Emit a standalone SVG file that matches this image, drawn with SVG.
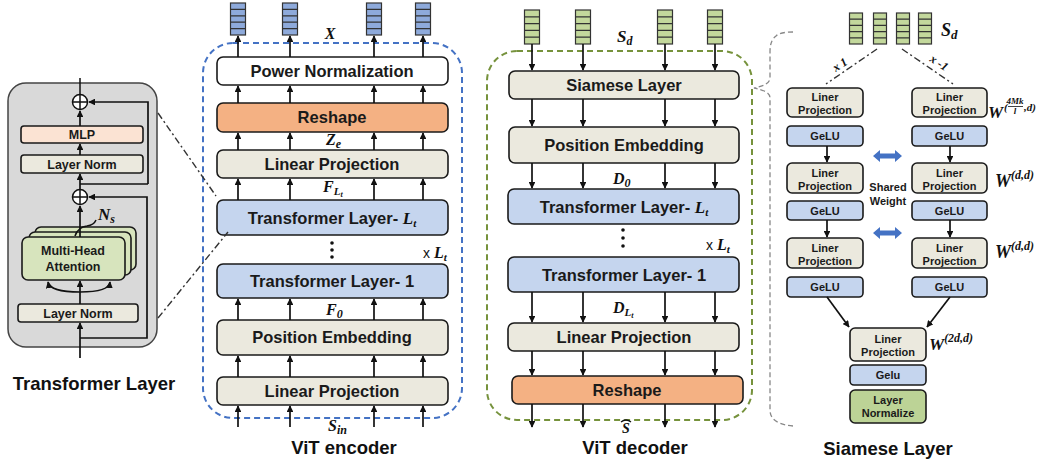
<svg xmlns="http://www.w3.org/2000/svg" width="1053" height="466" viewBox="0 0 1053 466">
<defs>
<marker id="ah" viewBox="0 0 10 10" refX="9" refY="5" markerWidth="4" markerHeight="4" orient="auto"><path d="M0,0 L10,5 L0,10 z" fill="#111"/></marker>
<style>
.box{stroke:#1a1a1a;stroke-width:1.6}
.beige{fill:#ebe9de}.blue{fill:#c5d5ee}.orange{fill:#f4b183}.white{fill:#fff}
.peach{fill:#fbe3d3}.green{fill:#d7e4bd}.lgreen{fill:#bcd396}
.t16{font-family:"Liberation Sans",Arial,sans-serif;font-weight:bold;font-size:16.5px;text-anchor:middle;fill:#1a1a1a}
.t13{font-family:"Liberation Sans",Arial,sans-serif;font-weight:bold;font-size:12.5px;text-anchor:middle;fill:#1a1a1a}
.t11{font-family:"Liberation Sans",Arial,sans-serif;font-weight:bold;font-size:11px;text-anchor:middle;fill:#1a1a1a}
.title{font-family:"Liberation Sans",Arial,sans-serif;font-weight:bold;font-size:18.5px;text-anchor:middle;fill:#111}
.m{font-family:"Liberation Serif","DejaVu Serif",serif;font-style:italic;font-weight:bold;fill:#111}
.ar{stroke:#111;stroke-width:1.7;fill:none;marker-end:url(#ah)}
.ln{stroke:#111;stroke-width:1.5;fill:none}
.dd{stroke:#333;stroke-width:1.4;fill:none;stroke-dasharray:7 3 2 3}
.vb{fill:#8eaadb;stroke:#333;stroke-width:1.2}
.vg{fill:#c3d89c;stroke:#333;stroke-width:1.2}
.vl{stroke:#333;stroke-width:1.2}
</style>
</defs>
<rect width="1053" height="466" fill="#fff"/>

<!-- Transformer Layer panel -->
<g id="transformer-layer">
<rect x="8" y="83" width="149" height="264" rx="18" fill="#d9d9d9" stroke="#444" stroke-width="1.5"/>
<rect class="box beige" x="18" y="304" width="120" height="18" rx="3"/>
<text class="t13" x="78" y="318">Layer Norm</text>
<rect class="box green" x="35" y="227" width="101" height="43" rx="6"/>
<rect class="box green" x="29" y="232" width="102" height="43" rx="6"/>
<rect class="box green" x="22" y="237" width="103" height="43" rx="6"/>
<text class="t13" x="73" y="255">Multi-Head</text>
<text class="t13" x="73" y="271">Attention</text>
<rect class="box beige" x="21" y="155" width="122" height="18" rx="3"/>
<text class="t13" x="82" y="169">Layer Norm</text>
<rect class="box peach" x="21" y="126" width="122" height="17" rx="3"/>
<text class="t13" x="82" y="139">MLP</text>
<g stroke="#111" stroke-width="1.5" fill="#fff">
<circle cx="80" cy="102" r="7.5"/><path d="M72.5 102H87.5M80 94.5V109.5"/>
<circle cx="80" cy="197" r="7.5"/><path d="M72.5 197H87.5M80 189.5V204.5"/>
</g>
<path class="ln" d="M80 94V78"/>
<path class="ar" d="M80 126V111"/>
<path class="ar" d="M80 155V144"/>
<path class="ar" d="M80 189V174"/>
<path class="ar" d="M148 184V102H89"/>
<path class="ln" d="M80 184H148"/>
<path class="ar" d="M80 338H147V197H89"/>
<path class="ar" d="M80 358V323"/>
<path class="ar" d="M80 304V281"/>
<path class="ar" d="M80 292Q50 292 48 282"/>
<path class="ar" d="M80 292Q109 292 110 282"/>
<path class="ar" d="M80 237V206"/>
<path class="ln" d="M75 236Q78 227 87 226Q94 225 96 220" stroke-width="1.2"/>
<text class="m" x="98" y="220" font-size="17">N<tspan font-size="12" dy="3">s</tspan></text>
<text class="title" x="94" y="390">Transformer Layer</text>
</g>

<!-- ViT encoder -->
<g id="vit-encoder">
<rect x="203" y="43" width="259" height="375" rx="30" fill="none" stroke="#4472c4" stroke-width="2" stroke-dasharray="6 4"/>
<rect class="box white" x="217" y="57" width="231" height="28" rx="6"/>
<text class="t16" x="332" y="77">Power Normalization</text>
<rect class="box orange" x="217" y="103" width="231" height="29" rx="6"/>
<text class="t16" x="332" y="123">Reshape</text>
<rect class="box beige" x="217" y="150" width="231" height="28" rx="6"/>
<text class="t16" x="332" y="170">Linear Projection</text>
<rect class="box blue" x="217" y="200" width="231" height="35" rx="6"/>
<text class="t16" x="332" y="224">Transformer Layer- <tspan class="m" font-size="17">L<tspan font-size="11" dy="3">t</tspan></tspan></text>
<rect class="box blue" x="217" y="264" width="231" height="34" rx="6"/>
<text class="t16" x="332" y="287">Transformer Layer- 1</text>
<rect class="box beige" x="217" y="320" width="231" height="35" rx="6"/>
<text class="t16" x="332" y="343">Position Embedding</text>
<rect class="box beige" x="217" y="377" width="231" height="28" rx="6"/>
<text class="t16" x="332" y="397">Linear Projection</text>
<g fill="#111"><circle cx="332" cy="243" r="1.8"/><circle cx="332" cy="250" r="1.8"/><circle cx="332" cy="257" r="1.8"/></g>
<text x="423" y="258" font-family="Liberation Sans,Arial,sans-serif" font-size="14" fill="#111">x <tspan class="m" font-size="16">L<tspan font-size="11" dy="3">t</tspan></tspan></text>
<text class="m" x="330" y="39" font-size="16" text-anchor="middle">X</text>
<text class="m" x="326" y="145" font-size="16">Z<tspan font-size="12" dy="3">e</tspan></text>
<text class="m" x="323" y="192" font-size="16">F<tspan font-size="11" dy="3">L</tspan><tspan font-size="8" dy="2">t</tspan></text>
<text class="m" x="326" y="315" font-size="16">F<tspan font-size="12" dy="3">0</tspan></text>
<text class="m" x="328" y="431" font-size="16">S<tspan font-size="12" dy="3">in</tspan></text>
<text class="title" x="344" y="454">ViT encoder</text>
<g>
<rect class="vb" x="230.5" y="3" width="15" height="32"/><rect class="vb" x="282.5" y="3" width="15" height="32"/><rect class="vb" x="366.5" y="3" width="15" height="32"/><rect class="vb" x="415.5" y="3" width="15" height="32"/>
<path class="vl" d="M230.5 9.4h15M230.5 15.8h15M230.5 22.2h15M230.5 28.6h15M282.5 9.4h15M282.5 15.8h15M282.5 22.2h15M282.5 28.6h15M366.5 9.4h15M366.5 15.8h15M366.5 22.2h15M366.5 28.6h15M415.5 9.4h15M415.5 15.8h15M415.5 22.2h15M415.5 28.6h15"/>
</g>
</g>

<!-- ViT decoder -->
<g id="vit-decoder">
<rect x="487" y="51" width="265" height="369" rx="30" fill="none" stroke="#76923c" stroke-width="2" stroke-dasharray="6 4"/>
<rect class="box beige" x="509" y="71" width="230" height="28" rx="6"/>
<text class="t16" x="624" y="91">Siamese Layer</text>
<rect class="box beige" x="509" y="127" width="230" height="36" rx="6"/>
<text class="t16" x="624" y="151">Position Embedding</text>
<rect class="box blue" x="508" y="189" width="231" height="35" rx="6"/>
<text class="t16" x="624" y="213">Transformer Layer- <tspan class="m" font-size="17">L<tspan font-size="11" dy="3">t</tspan></tspan></text>
<rect class="box blue" x="508" y="257" width="231" height="35" rx="6"/>
<text class="t16" x="624" y="281">Transformer Layer- 1</text>
<rect class="box beige" x="508" y="323" width="231" height="28" rx="6"/>
<text class="t16" x="624" y="343">Linear Projection</text>
<rect class="box orange" x="512" y="376" width="231" height="28" rx="6"/>
<text class="t16" x="627" y="396">Reshape</text>
<g fill="#111"><circle cx="623" cy="230" r="1.8"/><circle cx="623" cy="238" r="1.8"/><circle cx="623" cy="246" r="1.8"/></g>
<text x="706" y="250" font-family="Liberation Sans,Arial,sans-serif" font-size="14" fill="#111">x <tspan class="m" font-size="16">L<tspan font-size="11" dy="3">t</tspan></tspan></text>
<text class="m" x="617" y="42" font-size="17">S<tspan font-size="12" dy="3">d</tspan></text>
<text class="m" x="613" y="184" font-size="16">D<tspan font-size="12" dy="3">0</tspan></text>
<text class="m" x="613" y="313" font-size="16">D<tspan font-size="11" dy="3">L</tspan><tspan font-size="8" dy="2">t</tspan></text>
<text class="m" x="626" y="433" font-size="14" text-anchor="middle">S</text>
<path d="M621 422Q626 418 631 422" stroke="#111" stroke-width="1.3" fill="none"/>
<text class="title" x="635" y="454">ViT decoder</text>
<g>
<rect class="vg" x="524.5" y="10" width="15" height="34"/><rect class="vg" x="575.5" y="10" width="15" height="34"/><rect class="vg" x="657.5" y="10" width="15" height="34"/><rect class="vg" x="707.5" y="10" width="15" height="34"/>
<path class="vl" d="M524.5 16.8h15M524.5 23.6h15M524.5 30.4h15M524.5 37.2h15M575.5 16.8h15M575.5 23.6h15M575.5 30.4h15M575.5 37.2h15M657.5 16.8h15M657.5 23.6h15M657.5 30.4h15M657.5 37.2h15M707.5 16.8h15M707.5 23.6h15M707.5 30.4h15M707.5 37.2h15"/>
</g>
</g>

<!-- Siamese Layer -->
<g id="siamese-layer">
<g>
<rect class="vg" x="849.5" y="13" width="13" height="31"/><rect class="vg" x="873.5" y="13" width="13" height="31"/><rect class="vg" x="896.5" y="13" width="13" height="31"/><rect class="vg" x="918.5" y="13" width="13" height="31"/>
<path class="vl" d="M849.5 19.2h13M849.5 25.4h13M849.5 31.6h13M849.5 37.8h13M873.5 19.2h13M873.5 25.4h13M873.5 31.6h13M873.5 37.8h13M896.5 19.2h13M896.5 25.4h13M896.5 31.6h13M896.5 37.8h13M918.5 19.2h13M918.5 25.4h13M918.5 31.6h13M918.5 37.8h13"/>
</g>
<text class="m" x="941" y="36" font-size="18">S<tspan font-size="13" dy="3">d</tspan></text>
<text class="m" x="842" y="68" font-size="12" transform="rotate(-33 842 68)" text-anchor="middle">x 1</text>
<text class="m" x="937" y="66" font-size="12" transform="rotate(33 937 66)" text-anchor="middle">x -1</text>
<!-- row 1 -->
<rect class="box beige" x="787" y="88" width="76" height="29" rx="5"/>
<text class="t11" x="825" y="101">Liner</text><text class="t11" x="825" y="114">Projection</text>
<rect class="box beige" x="912" y="88" width="75" height="29" rx="5"/>
<text class="t11" x="949.5" y="101">Liner</text><text class="t11" x="949.5" y="114">Projection</text>
<rect class="box blue" x="787" y="126" width="76" height="20" rx="4"/><text class="t11" x="825" y="140">GeLU</text>
<rect class="box blue" x="912" y="126" width="75" height="20" rx="4"/><text class="t11" x="949.5" y="140">GeLU</text>
<!-- row 2 -->
<rect class="box beige" x="787" y="163" width="76" height="30" rx="5"/>
<text class="t11" x="825" y="177">Liner</text><text class="t11" x="825" y="190">Projection</text>
<rect class="box beige" x="912" y="163" width="75" height="30" rx="5"/>
<text class="t11" x="949.5" y="177">Liner</text><text class="t11" x="949.5" y="190">Projection</text>
<rect class="box blue" x="787" y="201" width="76" height="19" rx="4"/><text class="t11" x="825" y="215">GeLU</text>
<rect class="box blue" x="912" y="201" width="75" height="19" rx="4"/><text class="t11" x="949.5" y="215">GeLU</text>
<!-- row 3 -->
<rect class="box beige" x="787" y="238" width="76" height="30" rx="5"/>
<text class="t11" x="825" y="252">Liner</text><text class="t11" x="825" y="265">Projection</text>
<rect class="box beige" x="912" y="238" width="75" height="30" rx="5"/>
<text class="t11" x="949.5" y="252">Liner</text><text class="t11" x="949.5" y="265">Projection</text>
<rect class="box blue" x="787" y="277" width="76" height="20" rx="4"/><text class="t11" x="825" y="291">GeLU</text>
<rect class="box blue" x="912" y="277" width="75" height="20" rx="4"/><text class="t11" x="949.5" y="291">GeLU</text>
<!-- final -->
<rect class="box beige" x="850" y="328" width="76" height="33" rx="5"/>
<text class="t11" x="888" y="343">Liner</text><text class="t11" x="888" y="356">Projection</text>
<rect class="box blue" x="850" y="365" width="76" height="20" rx="4"/><text class="t11" x="888" y="379">Gelu</text>
<rect class="box lgreen" x="850" y="390" width="76" height="33" rx="5"/>
<text class="t11" x="888" y="404">Layer</text><text class="t11" x="888" y="417">Normalize</text>
<!-- shared weight -->
<path d="M873 156L880 150V153.5H895V150L902 156L895 162V158.5H880V162Z" fill="#4472c4"/>
<path d="M873 233L880 227V230.5H895V227L902 233L895 239V235.5H880V239Z" fill="#4472c4"/>
<text class="t11" x="888" y="191" fill="#333">Shared</text>
<text class="t11" x="888" y="205" fill="#333">Weight</text>
<!-- W labels -->
<text class="m" x="988" y="118" font-size="17">W</text>
<text class="m" x="1004" y="111" font-size="11">(</text>
<text class="m" x="1015" y="104" font-size="9" text-anchor="middle">4Mk</text>
<path d="M1008 106.5H1023" stroke="#111" stroke-width="0.8"/>
<text class="m" x="1015" y="114" font-size="9" text-anchor="middle">l</text>
<text class="m" x="1024" y="111" font-size="11">,d)</text>
<text class="m" x="995" y="187" font-size="18">W<tspan font-size="12" dy="-8">(d,d)</tspan></text>
<text class="m" x="995" y="258" font-size="18">W<tspan font-size="12" dy="-8">(d,d)</tspan></text>
<text class="m" x="929" y="350" font-size="17">W<tspan font-size="12" dy="-8">(2d,d)</tspan></text>
<text class="title" x="888" y="455">Siamese Layer</text>
</g>

<!-- connectors -->
<g id="connectors">
<path class="dd" d="M158 113L216 196"/>
<path class="dd" d="M158 318L228 232"/>
<path d="M793 32Q780 32 776 36Q770 40 770 52V78Q770 85 754 88Q770 91 770 98V410Q770 424 793 426" fill="none" stroke="#888" stroke-width="1.3" stroke-dasharray="5 3"/>
<path class="dd" d="M877 49L826 84"/>
<path class="dd" d="M902 49L953 84"/>
<path class="ar" d="M827 146V162"/><path class="ar" d="M950 146V162"/>
<path class="ar" d="M827 220V237"/><path class="ar" d="M950 220V237"/>
<path class="ar" d="M827 297L849 327"/><path class="ar" d="M950 297L927 327"/>
<!-- encoder up arrows -->
<path class="ar" d="M238 427V406"/><path class="ar" d="M290 427V406"/><path class="ar" d="M374 427V406"/><path class="ar" d="M423 427V406"/>
<path class="ar" d="M238 377V356"/><path class="ar" d="M290 377V356"/><path class="ar" d="M374 377V356"/><path class="ar" d="M423 377V356"/>
<path class="ar" d="M238 320V299"/><path class="ar" d="M290 320V299"/><path class="ar" d="M374 320V299"/><path class="ar" d="M423 320V299"/>
<path class="ar" d="M238 200V179"/><path class="ar" d="M290 200V179"/><path class="ar" d="M374 200V179"/><path class="ar" d="M423 200V179"/>
<path class="ar" d="M238 150V133"/><path class="ar" d="M290 150V133"/><path class="ar" d="M374 150V133"/><path class="ar" d="M423 150V133"/>
<path class="ar" d="M238 103V86"/><path class="ar" d="M290 103V86"/><path class="ar" d="M374 103V86"/><path class="ar" d="M423 103V86"/>
<path class="ar" d="M238 57V36"/><path class="ar" d="M290 57V36"/><path class="ar" d="M374 57V36"/><path class="ar" d="M423 57V36"/>
<!-- decoder down arrows -->
<path class="ar" d="M532 44V70"/><path class="ar" d="M583 44V70"/><path class="ar" d="M665 44V70"/><path class="ar" d="M715 44V70"/>
<path class="ar" d="M532 99V126"/><path class="ar" d="M583 99V126"/><path class="ar" d="M665 99V126"/><path class="ar" d="M715 99V126"/>
<path class="ar" d="M532 163V188"/><path class="ar" d="M583 163V188"/><path class="ar" d="M665 163V188"/><path class="ar" d="M715 163V188"/>
<path class="ar" d="M532 292V322"/><path class="ar" d="M583 292V322"/><path class="ar" d="M665 292V322"/><path class="ar" d="M715 292V322"/>
<path class="ar" d="M532 351V375"/><path class="ar" d="M583 351V375"/><path class="ar" d="M665 351V375"/><path class="ar" d="M715 351V375"/>
<path class="ar" d="M532 404V427"/><path class="ar" d="M583 404V427"/><path class="ar" d="M665 404V427"/><path class="ar" d="M715 404V427"/>
</g>
</svg>
